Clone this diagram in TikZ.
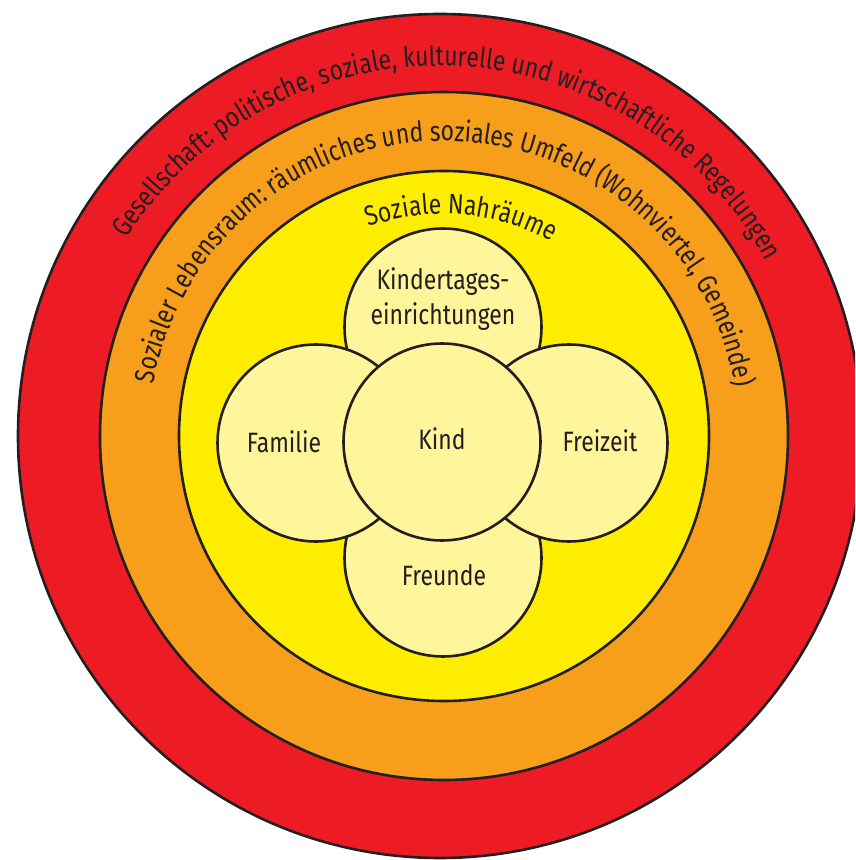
\documentclass[tikz,border=0pt]{standalone}
\usepackage{fontspec}
\setmainfont{Fira Sans}[FakeStretch=0.82]
\usetikzlibrary{decorations.text,calc}
\definecolor{ringred}{RGB}{237,28,36}
\definecolor{ringorange}{RGB}{247,158,27}
\definecolor{ringyellow}{RGB}{255,237,0}
\definecolor{lightyel}{RGB}{255,245,155}
\definecolor{ink}{RGB}{35,31,32}
\tikzset{
  ringnode/.style={circle, draw=ink, line width=2.6pt, inner sep=0pt},
  small/.style={circle, draw=ink, line width=2.6pt, fill=lightyel, minimum size=197pt, inner sep=0pt},
  lbl/.style={text=ink, font=\fontsize{28}{34}\selectfont, anchor=base, inner sep=0pt},
  arctext/.style={decorate, decoration={text along path, text align=center, text color=ink}}
}
\begin{document}
\begin{tikzpicture}[x=1pt,y=1pt]
\useasboundingbox (0,0) rectangle (855,860);
\clip (0,0) rectangle (855,860);
\coordinate (c) at (444,424);
\coordinate (cr) at (440,424);
\node[ringnode, fill=ringred, minimum size=844pt] (gesellschaft) at (cr) {};
\node[ringnode, fill=ringorange, minimum size=688pt] (lebensraum) at (c) {};
\node[ringnode, fill=ringyellow, minimum size=530pt] (nahraeume) at (c) {};
% small circles
\node[small] (kita) at (443,533) {};
\node[small] (freunde) at (443,302) {};
\node[small] (familie) at (316,417) {};
\node[small] (freizeit) at (569,417) {};
\node[small] (kind) at (442,418) {};
% labels
\node[lbl] (tkita1) at (443,570) {Kindertages-};
\node[lbl] (tkita2) at (443,535) {einrichtungen};
\node[lbl] (tkind) at (442,410) {Kind};
\node[lbl] (tfamilie) at (284,407) {Familie};
\node[lbl] (tfreizeit) at (600,408) {Freizeit};
\node[lbl] (tfreunde) at (444,274) {Freunde};
% curved texts
\path[arctext, decoration={text={|\fontsize{28}{30}\selectfont|Gesellschaft: politische, soziale, kulturelle und wirtschaftliche Regelungen}}]
  ($(cr)+(178:370)$) arc[start angle=178, end angle=-2, radius=370];
\path[arctext, decoration={text={|\fontsize{28}{30}\selectfont|Sozialer Lebensraum: räumliches und soziales Umfeld (Wohnviertel, Gemeinde)}}]
  ($(c)+(179.7:295)$) arc[start angle=179.7, end angle=-0.3, radius=295];
\path[arctext, decoration={text={|\fontsize{28}{30}\selectfont|Soziale Nahräume}}]
  ($(c)+(175.4:222)$) arc[start angle=175.4, end angle=-4.6, radius=222];
\end{tikzpicture}
\end{document}
